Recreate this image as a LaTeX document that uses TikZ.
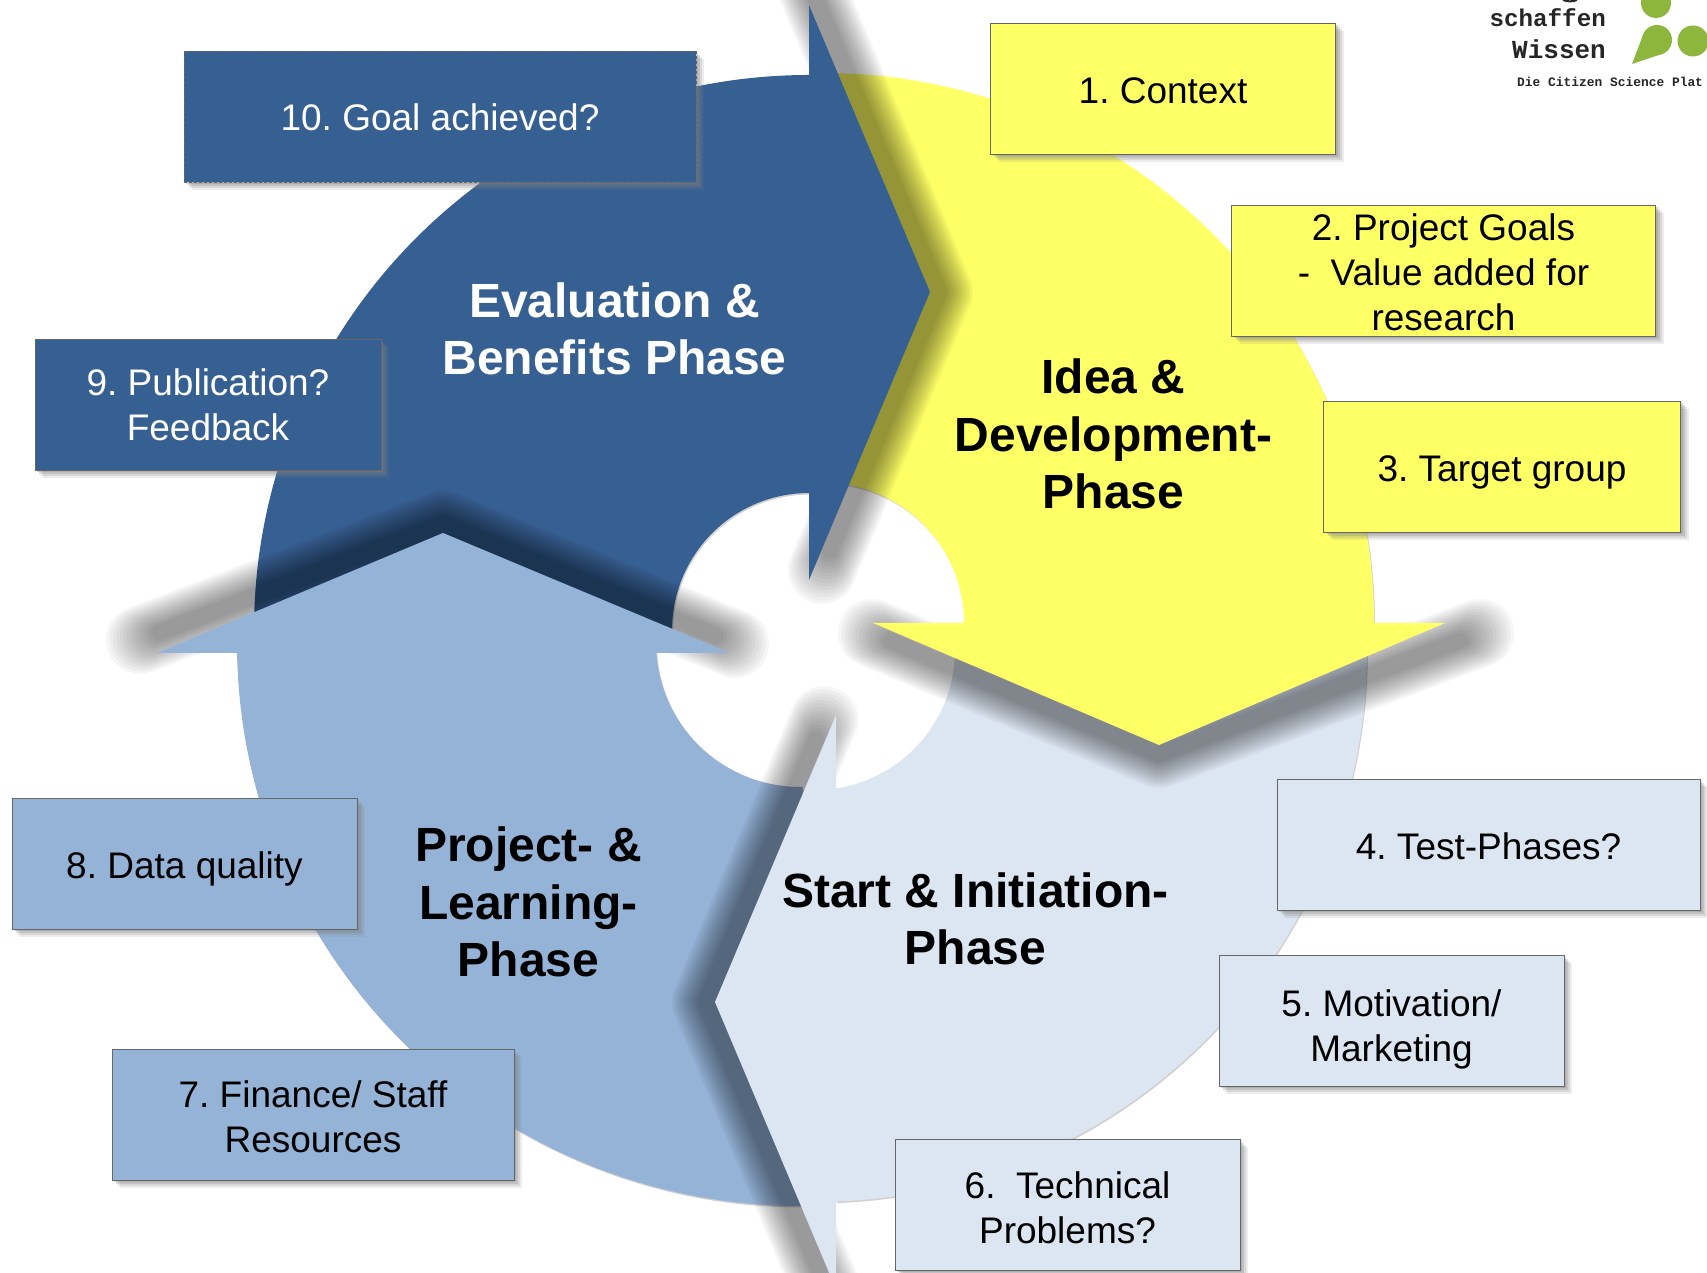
\documentclass[tikz,border=0pt]{standalone}
\usepackage{fontspec}
\setmainfont{Liberation Sans}
\newfontfamily\logofont{Liberation Mono}
\usetikzlibrary{shadows}
\definecolor{ideaC}{HTML}{FFFF66}
\definecolor{evalC}{HTML}{376092}
\definecolor{learnC}{HTML}{95B3D7}
\definecolor{startC}{HTML}{DCE6F2}
\definecolor{logoC}{HTML}{8CB63C}
\newcommand{\softshadow}[3]{%
  \foreach \w in {16,20,...,68} {
    \pgfmathsetmacro{\cut}{(68-\w)*.4}
    \draw[black,opacity=.036,line width=\w pt,line join=round,line cap=round,shorten <=\cut pt,shorten >=\cut pt] #1 -- #2 -- #3;
  }
}
\frenchspacing

\begin{document}
\begin{tikzpicture}[x=1pt,y=1pt,
  boxA/.style={
    draw=black!60,
    line width=1pt,
    fill=ideaC,
    minimum width=345pt,
    minimum height=131pt,
    inner sep=0pt,
    align=center,
    font={\fontsize{37}{45}\selectfont},
    drop shadow={shadow xshift=8pt,shadow yshift=-8pt,opacity=.15},
    drop shadow={shadow xshift=6pt,shadow yshift=-6pt,opacity=.2},
    drop shadow={shadow xshift=4pt,shadow yshift=-4pt,opacity=.25},
    drop shadow={shadow xshift=2pt,shadow yshift=-2pt,opacity=.3},
    },
  boxB/.style={boxA,fill=startC},
  boxC/.style={boxA,fill=learnC},
  boxD/.style={boxA,fill=evalC,text=white},
  phase/.style={
    align=center,
    inner sep=0pt,
    font={\fontsize{48}{57.5}\selectfont\bfseries},
    },
  body/.style={
    preaction={fill=black,fill opacity=.18,transform canvas={shift={(1pt,-1.5pt)}}},
    },
  logotext/.style={inner sep=0pt,text=black!85,font={\logofont\bfseries\fontsize{24.2}{29}\selectfont}},
  ]

  \useasboundingbox (0,0) rectangle (1707,1273);
  \clip (0,0) rectangle (1707,1273);

  % ring parts
  \path[fill=ideaC,body] (824,650) ++(91.6:550) arc[start angle=91.6,end angle=0,radius=550]
    -- (964,650) arc[start angle=0,end angle=96,radius=140] -- cycle;
  \path[fill=evalC,body] (809,643) ++(90:555) arc[start angle=90,end angle=181,radius=555]
    -- ++(418,7.3) arc[start angle=181,end angle=90,radius=137] -- cycle;
  \path[fill=learnC,body] (800,630) ++(180:563) arc[start angle=180,end angle=271,radius=563]
    -- ++(-7.3,419) arc[start angle=271,end angle=180,radius=144] -- cycle;
  \path[fill=startC,body] (815,623) ++(272.2:552) arc[start angle=272.2,end angle=360,radius=552]
    -- (955,623) arc[start angle=360,end angle=278.6,radius=140] -- cycle;

  % shadows of the arrow heads
  \softshadow{(872,640)}{(1159,519)}{(1480,640)}
  \softshadow{(140,633)}{(443,749)}{(735,629)}
  \softshadow{(808,1293)}{(939,981)}{(822,703)}
  \softshadow{(824,553)}{(706,271)}{(827,-17)}

  % arrow heads
  \fill[ideaC] (873,650) -- (1159,528) -- (1445,650) -- cycle;
  \fill[evalC] (809,1268) -- (930,981) -- (809,693) -- cycle;
  \fill[learnC] (157,620) -- (443,740) -- (730,620) -- cycle;
  \fill[startC] (836,558) -- (715,271) -- (836,-16) -- cycle;

  \node[phase,text=white] (evalphase) at (614.5,944) {Evaluation \&\\Benefits Phase};
  \node[phase] (ideaphase) at (1113.5,839) {Idea \&\\Development-\\Phase};
  \node[phase] (startphase) at (975.5,354) {Start \& Initiation-\\Phase};
  \node[phase] (learnphase) at (528.5,371) {Project- \&\\Learning-\\Phase};

  \node[boxA,text height=30pt] (context) at (1163,1184) {1. Context};
  \node[boxA,minimum width=424pt,text height=119pt] (goals) at (1443.5,1002) {2. Project Goals\\-\ \ Value added for\\research};
  \node[boxA,minimum width=357pt,text height=37pt] (target) at (1502,806) {3. Target group};
  \node[boxB,minimum width=423pt,text height=29pt] (test) at (1488.5,428) {4. Test-Phases?};
  \node[boxB,text height=88pt] (motivation) at (1391.5,252) {5. Motivation/\\Marketing};
  \node[boxB,text height=78pt] (technical) at (1067.5,68) {6.\ \ Technical\\Problems?};
  \node[boxC,minimum width=402pt,text height=75pt] (finance) at (313,158) {7. Finance/ Staff\\Resources};
  \node[boxC,text height=36pt] (quality) at (184.5,409) {8. Data quality};
  \node[boxD,minimum width=346pt] (publication) at (208,868) {9. Publication?\\Feedback};
  \node[boxD,minimum width=512pt,densely dashed] (goal) at (440,1156) {10. Goal achieved?};

  % logo
  \node[logotext,anchor=base east] (logoa) at (1606,1246) {schaffen};
  \node[logotext,anchor=base east,font={\logofont\bfseries\fontsize{26}{29}\selectfont}] (logob) at (1606,1214) {Wissen};
  \node[logotext,anchor=base west,font={\logofont\bfseries\fontsize{12.9}{15}\selectfont}] (logoc) at (1517,1186) {Die Citizen Science Plat};
  \fill[logoC] (1656,1270) circle[radius=15];
  \fill[logoC] (1693,1232) circle[radius=15.5];
  \fill[logoC] (1657,1233) circle[radius=15];
  \fill[logoC] (1632,1209) -- (1643,1238) -- (1662,1219) -- cycle;
  \draw[black!85,line width=2pt] (1563,1273) to[bend right=20] (1577,1273);

\end{tikzpicture}
\end{document}
